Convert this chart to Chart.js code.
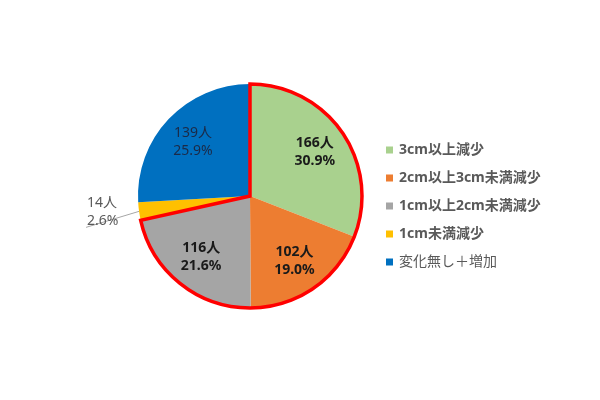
<!DOCTYPE html>
<html>
<head>
<meta charset="utf-8">
<script src="https://cdn.jsdelivr.net/npm/chart.js@4.4.1/dist/chart.umd.min.js"></script>
<style>
  body { margin: 0; background: #fff; }
  .box { width: 600px; height: 400px; position: relative; }
</style>
</head>
<body>
<div class="box"><canvas id="grafico-pizza"></canvas></div>
<script>
const categorias = ['3cm以上減少', '2cm以上3cm未満減少', '1cm以上2cm未満減少', '1cm未満減少', '変化無し＋増加'];
const pessoas = [166, 102, 116, 14, 139];
const percentuais = ['30.9%', '19.0%', '21.6%', '2.6%', '25.9%'];
const cores = ['#A9D18E', '#ED7D31', '#A5A5A5', '#FFC000', '#0070C0'];

const fonte = '"Noto Sans", "Noto Sans CJK JP", sans-serif';

// contorno vermelho em volta das tres primeiras fatias
const contornoVermelho = {
  id: 'contornoVermelho',
  afterDatasetsDraw(chart) {
    const arcos = chart.getDatasetMeta(0).data;
    const primeiro = arcos[0];
    const ultimo = arcos[2];
    const ctx = chart.ctx;
    ctx.save();
    ctx.beginPath();
    ctx.moveTo(primeiro.x, primeiro.y);
    ctx.arc(primeiro.x, primeiro.y, primeiro.outerRadius, primeiro.startAngle, ultimo.endAngle);
    ctx.closePath();
    ctx.strokeStyle = '#FF0000';
    ctx.lineWidth = 3.5;
    ctx.lineJoin = 'miter';
    ctx.stroke();
    ctx.restore();
  }
};

// rotulos de dados: pessoas e porcentagem
const rotulos = {
  id: 'rotulos',
  afterDraw(chart) {
    const ctx = chart.ctx;
    const arcos = chart.getDatasetMeta(0).data;
    ctx.save();
    arcos.forEach((arco, i) => {
      const meio = (arco.startAngle + arco.endAngle) / 2;
      const l1 = pessoas[i] + '人';
      const l2 = percentuais[i];
      if (i === 3) {
        const bx = arco.x + Math.cos(meio) * arco.outerRadius;
        const by = arco.y + Math.sin(meio) * arco.outerRadius;
        const ex = bx - 53;
        const ey = by + 16;
        ctx.strokeStyle = '#A6A6A6';
        ctx.lineWidth = 1;
        ctx.beginPath();
        ctx.moveTo(bx, by);
        ctx.lineTo(ex, ey);
        ctx.stroke();
        ctx.fillStyle = '#595959';
        ctx.font = '14px ' + fonte;
        ctx.textAlign = 'left';
        ctx.textBaseline = 'middle';
        ctx.fillText(l1, ex + 1, ey - 24);
        ctx.fillText(l2, ex + 1, ey - 6);
        return;
      }
      const r = arco.outerRadius * 0.7;
      const x = arco.x + Math.cos(meio) * r;
      const y = arco.y + Math.sin(meio) * r;
      const negrito = i < 3;
      ctx.font = (negrito ? 'bold ' : '') + '14px ' + fonte;
      ctx.fillStyle = i === 4 ? '#1B2A47' : '#1a1a1a';
      ctx.textAlign = 'center';
      ctx.textBaseline = 'middle';
      ctx.fillText(l1, x, y - 9);
      ctx.fillText(l2, x, y + 9);
    });
    ctx.restore();
  }
};

// legenda desenhada a direita
const legendaLateral = {
  id: 'legendaLateral',
  afterDraw(chart) {
    const ctx = chart.ctx;
    ctx.save();
    categorias.forEach((cat, i) => {
      const y = 150 + i * 28;
      ctx.fillStyle = cores[i];
      ctx.fillRect(386, y - 3.5, 7, 7);
      ctx.fillStyle = '#595959';
      ctx.font = (i < 4 ? 'bold ' : '') + '14px ' + fonte;
      ctx.textAlign = 'left';
      ctx.textBaseline = 'middle';
      ctx.fillText(cat, 399, y);
    });
    ctx.restore();
  }
};

const ctxPizza = document.getElementById('grafico-pizza').getContext('2d');

const graficoPizza = new Chart(ctxPizza, {
  type: 'pie',
  data: {
    labels: categorias,
    datasets: [{
      data: pessoas,
      backgroundColor: cores,
      borderWidth: 0
    }]
  },
  options: {
    responsive: true,
    maintainAspectRatio: false,
    animation: false,
    layout: {
      padding: { left: 138, right: 238, top: 84, bottom: 92 }
    },
    plugins: {
      legend: { display: false },
      tooltip: { enabled: false }
    }
  },
  plugins: [contornoVermelho, rotulos, legendaLateral]
});
</script>
</body>
</html>
